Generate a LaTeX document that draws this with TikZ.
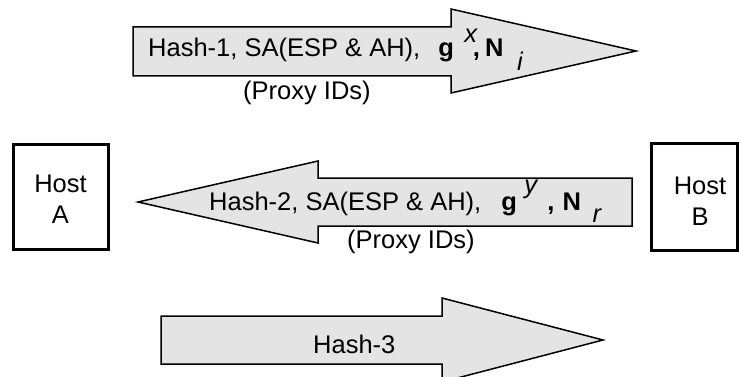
\documentclass[tikz,border=0pt]{standalone}
\usepackage{fontspec}
\setmainfont{Liberation Sans}
\definecolor{arrowfill}{RGB}{228,228,228}
\begin{document}
\begin{tikzpicture}[x=1pt,y=-1pt,
  blockarrow/.style={draw=black,fill=arrowfill,line width=1.5pt,line join=miter},
  hostbox/.style={draw=black,line width=3pt,minimum width=95pt,minimum height=104pt,inner sep=0pt},
  txt/.style={inner sep=0pt,font=\fontsize{25.5}{31}\selectfont},
  hosttxt/.style={txt,align=center}]
\useasboundingbox (0,0) rectangle (739,377);
\clip (0,0) rectangle (739,377);
% arrow 1 (A -> B)
\draw[blockarrow] (133,27) -- (451,27) -- (451,9) -- (636,51) -- (451,93) -- (451,76) -- (133,76) -- cycle;
% arrow 2 (B -> A)
\draw[blockarrow] (632,178) -- (318,178) -- (318,161) -- (138,202) -- (318,243) -- (318,226) -- (632,226) -- cycle;
% arrow 3 (A -> B)
\draw[blockarrow] (161,316) -- (442,316) -- (442,298) -- (603,340) -- (442,382) -- (442,364) -- (161,364) -- cycle;
% labels
\node[txt,anchor=base west] (msg1) at (148,57) {Hash-1, SA(ESP \& AH),\hspace{18pt}\textbf{g}\hspace{10.4pt}\raisebox{14pt}{\textit{x}}\hspace{-4.8pt}\textbf{,}\hspace{5pt}\textbf{N}\hspace{13.6pt}\raisebox{-14pt}{\textit{i}}};
\node[txt,anchor=base west] (proxy1) at (243,100) {(Proxy IDs)};
\node[txt,anchor=base west] (msg2) at (209,210) {Hash-2, SA(ESP \& AH),\hspace{20pt}\textbf{g}\hspace{7.4pt}\raisebox{17pt}{\textit{y}}\hspace{9.2pt}\textbf{,}\hspace{8pt}\textbf{N}\hspace{11.6pt}\raisebox{-12pt}{\textit{r}}};
\node[txt,anchor=base west] (proxy2) at (347,248) {(Proxy IDs)};
\node[txt,anchor=base west] (msg3) at (313,353) {Hash-3};
% hosts
\node[hostbox] (hostA) at (60.5,197) {};
\node[hosttxt] (hostAtxt) at (60.5,199.5) {Host\\A};
\node[hostbox,minimum width=86pt,minimum height=106pt] (hostB) at (694,197) {};
\node[hosttxt] (hostBtxt) at (700,201.5) {Host\\B};
\end{tikzpicture}
\end{document}
